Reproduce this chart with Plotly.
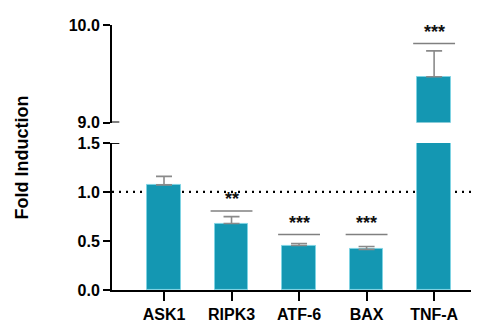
import plotly.graph_objects as go

genes = ["ASK1", "RIPK3", "ATF-6", "BAX", "TNF-A"]
fold = [1.072, 0.678, 0.454, 0.414, 9.47]
err_up = [0.087, 0.070, 0.020, 0.030, 0.265]
sig_labels = ["", "**", "***", "***", "***"]
sig_levels = [None, 0.807, 0.566, 0.566, 9.81]

bar_color = "#1497B2"
err_color = "#8a8a8a"
font_fam = "Arial, Liberation Sans, sans-serif"

zeros = [0] * len(fold)

fig = go.Figure()
for yax in ["y", "y2"]:
    fig.add_trace(go.Bar(
        x=genes, y=fold, yaxis=yax, xaxis="x",
        width=0.5,
        marker=dict(color=bar_color, line=dict(color="#7fd3e3", width=1)),
        error_y=dict(type="data", array=err_up, arrayminus=zeros, symmetric=False,
                     color=err_color, thickness=1.6, width=8),
        cliponaxis=True,
        showlegend=False,
    ))

shapes = []
# reference line at 1.0
shapes.append(dict(type="line", xref="paper", yref="y", x0=0, x1=1, y0=1, y1=1,
                   line=dict(color="black", width=2.2, dash="2px,5px"), layer="below"))
# significance lines
for i, (lab, lev) in enumerate(zip(sig_labels, sig_levels)):
    if lev is None:
        continue
    yref = "y2" if lev > 1.5 else "y"
    shapes.append(dict(type="line", xref="x", yref=yref, x0=i - 0.31, x1=i + 0.31,
                       y0=lev, y1=lev, line=dict(color="#808080", width=1.5)))
# axis break marks
for yref, val in [("y2", 9.0), ("y", 1.5)]:
    shapes.append(dict(type="line", xref="paper", yref=yref, x0=0, x1=0.02,
                       y0=val, y1=val, line=dict(color="black", width=2)))

annotations = []
for i, (lab, lev) in enumerate(zip(sig_labels, sig_levels)):
    if lev is None:
        continue
    yref = "y2" if lev > 1.5 else "y"
    annotations.append(dict(x=i, y=lev, xref="x", yref=yref, text="<b>" + lab + "</b>",
                            showarrow=False, yanchor="bottom", xanchor="center", yshift=0,
                            font=dict(family=font_fam, size=18, color="#111")))
annotations.append(dict(x=-0.246, y=0.5, xref="paper", yref="paper", text="<b>Fold Induction</b>",
                        textangle=-90, showarrow=False, xanchor="center", yanchor="middle",
                        font=dict(family=font_fam, size=18, color="black")))

axis_common = dict(showline=True, linecolor="black", linewidth=2, ticks="outside",
                   tickcolor="black", tickwidth=2, ticklen=7, showgrid=False, zeroline=False,
                   tickformat=".1f",
                   tickfont=dict(family=font_fam, size=16, color="black", weight="bold"))

fig.update_layout(
    width=479, height=324,
    margin=dict(l=104, r=9, t=12, b=40),
    plot_bgcolor="white", paper_bgcolor="white",
    bargap=0,
    xaxis=dict(range=[-0.77, 4.65], showline=True, linecolor="black", linewidth=2,
               ticks="outside", tickcolor="black", tickwidth=2, ticklen=9,
               showgrid=False, zeroline=False, anchor="y",
               tickfont=dict(family=font_fam, size=16, color="black", weight="bold")),
    yaxis=dict(domain=[0, 0.555], range=[0, 1.5], dtick=0.5, tick0=0, anchor="x", **axis_common),
    yaxis2=dict(domain=[0.632, 1.0], range=[9, 10], dtick=1, tick0=9, anchor="x", **axis_common),
    shapes=shapes,
    annotations=annotations,
)

fig.write_html("out.html")
